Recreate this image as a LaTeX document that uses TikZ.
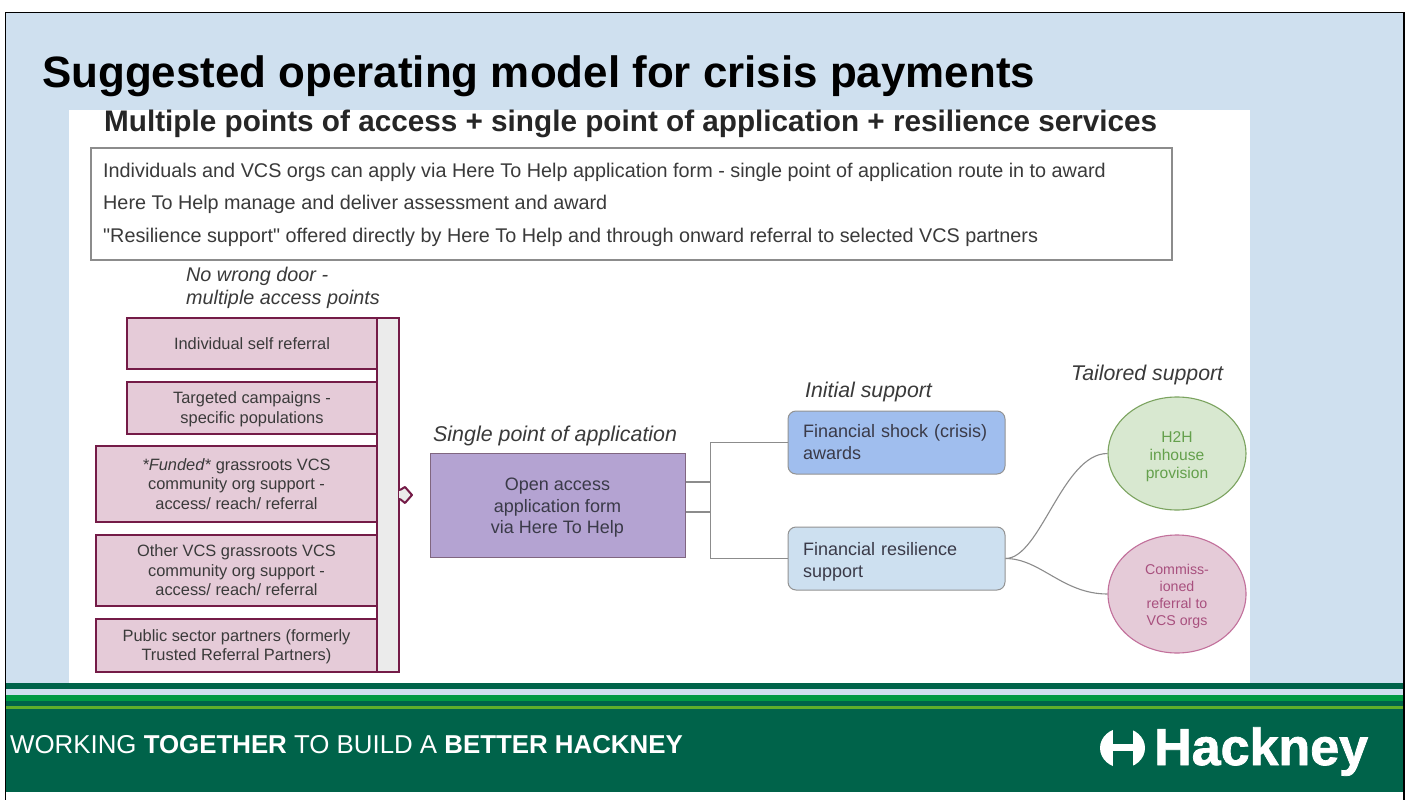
\documentclass[tikz,border=0pt]{standalone}
\usepackage{fontspec}
\setmainfont{Liberation Sans}
\newfontfamily\hkfont[FakeBold=1.5]{Liberation Sans Bold}
\newfontfamily\plainfont{Liberation Sans}
\usetikzlibrary{shapes.geometric,calc}
\definecolor{slidebg}{HTML}{CFE0EF}
\definecolor{hgreen}{HTML}{00634A}
\definecolor{maroon}{HTML}{741B47}
\definecolor{rosefill}{HTML}{E5CBD8}
\definecolor{txt}{HTML}{3A3A3A}
\definecolor{boxtxt}{HTML}{3A3A48}
\definecolor{linegray}{HTML}{8C8C8C}
\definecolor{appfill}{HTML}{B4A3D2}
\definecolor{shockfill}{HTML}{A0BEEE}
\definecolor{resilfill}{HTML}{CDE0F0}
\definecolor{h2hfill}{HTML}{D8E8D0}
\definecolor{h2hline}{HTML}{7BA35F}
\definecolor{h2htext}{HTML}{64A04C}
\definecolor{commline}{HTML}{C2709B}
\definecolor{commtext}{HTML}{A8507E}
\definecolor{stripeA}{HTML}{009A44}
\definecolor{stripeB}{HTML}{5FAE2A}
\newcommand{\fs}[2]{\fontsize{#1}{#2}\selectfont}
\tikzset{
  x=1pt,y=-1pt,
  label text/.style={inner sep=0pt,text=txt,anchor=base west},
  accessbox/.style={draw=maroon,line width=2pt,fill=rosefill,inner sep=0pt,align=center,text=txt,font=\fs{16.4}{19.5}},
  roundbox/.style={draw=gray!85,line width=1pt,rounded corners=8pt,minimum width=217pt,minimum height=63pt,text width=187pt,inner xsep=15pt,inner ysep=0pt,align=left,text=boxtxt,font=\fs{18}{22}},
  circlenode/.style={ellipse,line width=1.1pt,inner sep=0pt,minimum width=138pt,align=center},
  conn/.style={draw=linegray,line width=1.1pt},
}
\begin{document}
\begin{tikzpicture}
\useasboundingbox (0,0) rectangle (1409,800);
\fill[white] (0,0) rectangle (1409,800);
% slide background and footer
\fill[slidebg] (5,12) rectangle (1404,684);
\fill[hgreen] (5,683) rectangle (1404,792);
\fill[slidebg] (5,689) rectangle (1404,695);
\fill[stripeA] (5,695) rectangle (1404,701);
\fill[stripeB] (5,706) rectangle (1404,708.5);
\draw[black,line width=1.6pt] (5.5,800) -- (5.5,12.5) -- (1404,12.5) -- (1404,800);
% title
\node[inner sep=0pt,anchor=base west,text=black,font=\bfseries\fs{43.9}{50}] (title) at (42,87.5) {Suggested operating model for crisis payments};
% white panel
\fill[white] (69,110) rectangle (1250,683);
\node[inner sep=0pt,anchor=base west,text=black!85,font=\bfseries\fs{29.7}{34}] (subtitle) at (104,131.5) {Multiple points of access + single point of application + resilience services};
\node[draw=gray!90,line width=1.1pt,inner sep=0pt,minimum width=1081pt,minimum height=112pt] (summary) at (631.5,204) {};
\node[label text,font=\fs{19.8}{24}] (s1) at (103,177) {Individuals and VCS orgs can apply via Here To Help application form - single point of application route in to award};
\node[label text,font=\fs{19.8}{24}] (s2) at (103,209.5) {Here To Help manage and deliver assessment and award};
\node[label text,font=\fs{19.8}{24}] (s3) at (103,242) {{\plainfont"}Resilience support{\plainfont"} offered directly by Here To Help and through onward referral to selected VCS partners};
% access column
\node[label text,font=\itshape\fs{19.8}{23}] (n1) at (186,281) {No wrong door -};
\node[label text,font=\itshape\fs{19.8}{23}] (n2) at (186,304) {multiple access points};
\node[draw=maroon,line width=2pt,fill=black!8,inner sep=0pt,minimum width=22pt,minimum height=354pt] (bar) at (388,495) {};
\fill[black!8,draw=maroon,line width=2pt,line join=round] ($(bar.east)+(0,-5)$) -- ++(5,-3) -- ($(bar.east)+(12,0)$) -- ++(-7,8) -- ($(bar.east)+(0,4)$);
\fill[black!8] ($(bar.east)+(-1.5,-4)$) rectangle ($(bar.east)+(1,3)$);
\node[accessbox,minimum width=250pt,minimum height=51pt] (a1) at (252,343.5) {Individual self referral};
\node[accessbox,minimum width=250pt,minimum height=52pt] (a2) at (252,408) {\rule{0pt}{14pt}Targeted campaigns -\\specific populations};
\node[accessbox,minimum width=281pt,minimum height=76pt] (a3) at (236.5,484) {\textit{*Funded*} grassroots VCS\\community org support -\\access/ reach/ referral};
\node[accessbox,minimum width=281pt,minimum height=71pt] (a4) at (236.5,570.5) {Other VCS grassroots VCS\\community org support -\\access/ reach/ referral};
\node[accessbox,minimum width=281pt,minimum height=53pt] (a5) at (236.5,645.5) {\rule{0pt}{14pt}Public sector partners (formerly\\Trusted Referral Partners)};
% application
\node[label text,font=\itshape\fs{21.4}{25}] (single) at (433,441) {Single point of application};
\node[draw=gray!80!violet,line width=1pt,fill=appfill,inner sep=0pt,minimum width=255pt,minimum height=104pt,align=center,text=boxtxt,font=\fs{18}{21.5}] (app) at (557.5,505) {\rule{0pt}{18pt}Open access\\application form\\via Here To Help};
% initial support
\node[label text,font=\itshape\fs{21.3}{25}] (initial) at (805,397) {Initial support};
\node[roundbox,fill=shockfill] (shock) at (896.5,442.5) {Financial shock (crisis)\\awards};
\node[roundbox,fill=resilfill] (resil) at (896.5,558.5) {\rule{0pt}{19pt}Financial resilience\\support};
% tailored support
\node[label text,font=\itshape\fs{21.3}{25}] (tailored) at (1071,380) {Tailored support};
\node[circlenode,draw=h2hline,fill=h2hfill,minimum height=113pt,text=h2htext,font=\fs{15.6}{18}] (h2h) at (1177,453.5) {\rule{0pt}{17pt}H2H\\inhouse\\provision};
\node[circlenode,draw=commline,fill=rosefill,minimum height=118pt,text=commtext,font=\fs{14.2}{17}] (comm) at (1177,594) {\rule{0pt}{15pt}Commiss-\\ioned\\referral to\\VCS orgs};
% connectors
\coordinate (appa) at ($(app.east)+(0,-23)$);
\coordinate (appb) at ($(app.east)+(0,7)$);
\coordinate (mid) at ($(app.east)+(25,0)$);
\draw[conn] (appb) -- (appb -| mid) -- (mid |- shock.west) -- (shock.west);
\draw[conn] (appa) -- (appa -| mid) -- (mid |- resil.west) -- (resil.west);
\draw[conn] (resil.east) .. controls +(35,0) and +(-45,0) .. (h2h.west);
\draw[conn] (resil.east) .. controls +(35,0) and +(-45,0) .. (comm.west);
% footer text
\node[inner sep=0pt,anchor=base west,text=white,font=\fs{25.85}{30}] (tag) at (10,753) {WORKING \textbf{TOGETHER} TO BUILD A \textbf{BETTER HACKNEY}};
\fill[white] (1122.5,748) ellipse (22.5pt and 20pt);
\fill[hgreen] (1113,726) rectangle (1133,744);
\fill[hgreen] (1113,751) rectangle (1133,770);
\node[inner sep=0pt,anchor=base west,text=white,font=\hkfont\fs{52}{56}] (logo) at (1154,765) {Hackney};
\end{tikzpicture}
\end{document}
